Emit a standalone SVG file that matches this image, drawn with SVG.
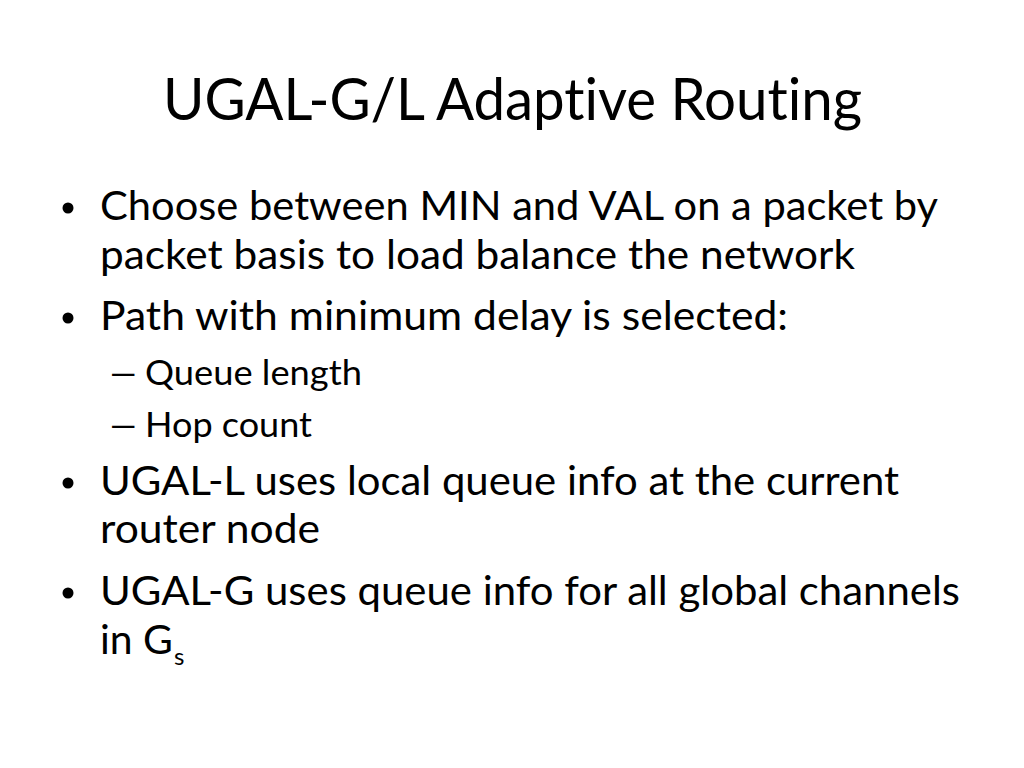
<svg xmlns="http://www.w3.org/2000/svg" width="1024" height="768" viewBox="0 0 1024 768">
<style>
text { font-family: Lato, "Open Sans", "Liberation Sans", sans-serif; fill: #000; font-variant-ligatures: none; font-feature-settings: "liga" 0, "clig" 0, "dlig" 0; }
.title { font-size: 58px; }
.l1 { font-size: 40px; }
.l2 { font-size: 35px; }
.sub { font-size: 24px; }
</style>
<rect width="1024" height="768" fill="#fff"/>
<g id="title">
<text class="title" x="163" y="120" textLength="699" lengthAdjust="spacingAndGlyphs">UGAL-G/L Adaptive Routing</text>
</g>
<g id="bullet1">
<circle cx="68" cy="208" r="5.5"/>
<text class="l1" x="100" y="220" textLength="838" lengthAdjust="spacingAndGlyphs">Choose between MIN and VAL on a packet by</text>
<text class="l1" x="100" y="269" textLength="755" lengthAdjust="spacingAndGlyphs">packet basis to load balance the network</text>
</g>
<g id="bullet2">
<circle cx="68" cy="318" r="5.5"/>
<text class="l1" x="100" y="330" textLength="688" lengthAdjust="spacingAndGlyphs">Path with minimum delay is selected:</text>
</g>
<g id="sub1">
<text class="l2" transform="translate(107,385) scale(1.6,1)" x="0" y="0">–</text>
<text class="l2" x="145" y="385" textLength="217" lengthAdjust="spacingAndGlyphs">Queue length</text>
</g>
<g id="sub2">
<text class="l2" transform="translate(107,437) scale(1.6,1)" x="0" y="0">–</text>
<text class="l2" x="145" y="437" textLength="167" lengthAdjust="spacingAndGlyphs">Hop count</text>
</g>
<g id="bullet3">
<circle cx="68" cy="483" r="5.5"/>
<text class="l1" x="100" y="495" textLength="799" lengthAdjust="spacingAndGlyphs">UGAL-L uses local queue info at the current</text>
<text class="l1" x="100" y="543" textLength="220" lengthAdjust="spacingAndGlyphs">router node</text>
</g>
<g id="bullet4">
<circle cx="68" cy="593" r="5.5"/>
<text class="l1" x="100" y="605" textLength="860" lengthAdjust="spacingAndGlyphs">UGAL-G uses queue info for all global channels</text>
<text class="l1" x="100" y="654" textLength="73" lengthAdjust="spacingAndGlyphs">in G</text>
<text class="sub" x="174" y="665">s</text>
</g>
</svg>
